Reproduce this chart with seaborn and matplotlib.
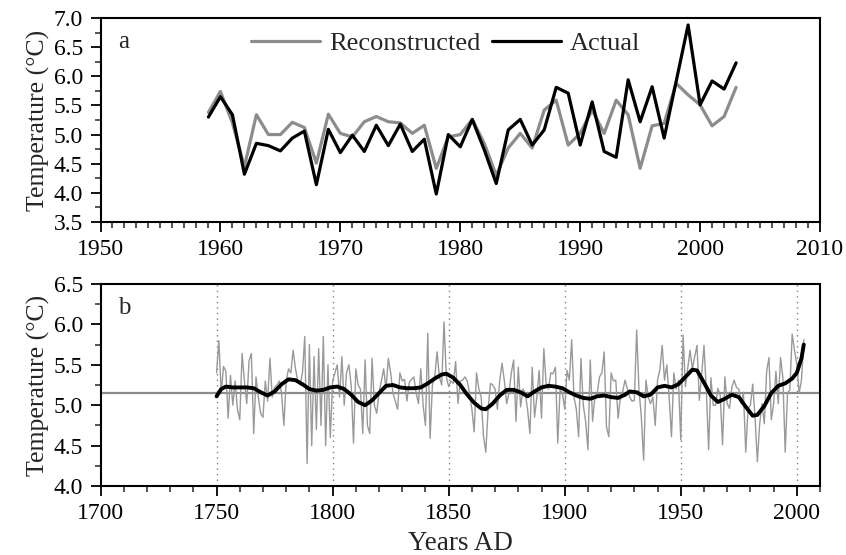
import numpy as np
import pandas as pd
import matplotlib
matplotlib.use("Agg")
import matplotlib.pyplot as plt
from matplotlib.ticker import MultipleLocator
import seaborn as sns

# ---------------- data ----------------
years_a = list(range(1959, 2004))
reconstructed = [5.38, 5.74, 5.20, 4.45, 5.34, 5.00, 5.00, 5.21, 5.12, 4.51,
                 5.35, 5.02, 4.96, 5.22, 5.31, 5.22, 5.20, 5.02, 5.16, 4.42,
                 4.96, 5.00, 5.26, 4.85, 4.30, 4.77, 5.02, 4.77, 5.42, 5.59,
                 4.82, 5.02, 5.42, 5.02, 5.59, 5.34, 4.42, 5.15, 5.19, 5.88,
                 5.68, 5.51, 5.15, 5.31, 5.81]
actual = [5.30, 5.65, 5.34, 4.32, 4.85, 4.81, 4.72, 4.94, 5.06, 4.14,
          5.09, 4.69, 4.99, 4.71, 5.16, 4.81, 5.18, 4.71, 4.92, 3.98,
          5.00, 4.79, 5.26, 4.74, 4.16, 5.08, 5.26, 4.82, 5.08, 5.81,
          5.71, 4.82, 5.56, 4.71, 4.61, 5.94, 5.22, 5.82, 4.94, 5.91,
          6.88, 5.51, 5.92, 5.78, 6.23]

years_b = list(range(1750, 2004))
annual_b = [
    5.40, 5.80, 5.15, 5.48, 5.42, 4.84, 5.37, 5.00, 5.30, 4.95,  # 1750
    4.82, 5.64, 5.30, 5.02, 5.55, 5.64, 4.65, 5.35, 5.10, 4.90,  # 1760
    4.85, 5.30, 5.05, 5.58, 5.10, 5.22, 5.25, 5.30, 5.15, 4.75,  # 1770
    5.30, 5.45, 5.40, 5.68, 5.45, 5.30, 5.25, 5.40, 5.85, 4.28,  # 1780
    5.75, 4.50, 5.60, 4.70, 5.70, 4.75, 5.85, 4.50, 5.50, 4.60,  # 1790
    5.30, 5.40, 5.50, 5.10, 5.60, 5.00, 5.40, 5.50, 5.25, 4.53,  # 1800
    5.45, 5.25, 5.20, 4.65, 5.56, 4.75, 4.65, 5.58, 5.00, 4.90,  # 1810
    5.15, 5.30, 5.45, 5.20, 5.58, 5.40, 5.15, 5.05, 4.95, 5.40,  # 1820
    5.30, 5.32, 5.05, 5.28, 5.32, 5.35, 5.15, 5.02, 5.45, 5.00,  # 1830
    4.75, 5.89, 4.59, 5.25, 5.35, 5.66, 5.35, 5.25, 6.03, 5.35,  # 1840
    5.23, 5.30, 5.27, 5.54, 5.02, 5.30, 5.31, 5.35, 5.30, 5.15,  # 1850
    4.95, 4.67, 5.40, 5.20, 5.10, 4.62, 4.42, 4.95, 5.27, 5.25,  # 1860
    5.20, 4.95, 5.30, 5.52, 5.30, 5.02, 5.15, 5.40, 5.56, 4.80,  # 1870
    5.47, 4.98, 5.20, 5.15, 4.95, 4.65, 5.47, 4.85, 5.10, 5.43,  # 1880
    4.84, 5.70, 5.27, 5.20, 5.40, 5.39, 5.47, 4.53, 5.19, 5.15,  # 1890
    4.95, 5.43, 5.31, 5.81, 5.10, 4.95, 4.61, 5.58, 5.00, 4.80,  # 1900
    4.45, 5.56, 4.80, 5.10, 5.15, 5.35, 5.40, 5.66, 4.73, 4.61,  # 1910
    5.40, 5.30, 5.31, 4.84, 5.10, 5.17, 5.31, 5.20, 5.10, 5.05,  # 1920
    5.06, 5.93, 5.19, 4.86, 4.32, 5.31, 5.10, 5.02, 5.10, 4.75,  # 1930
    5.31, 5.44, 5.74, 5.31, 5.50, 5.10, 4.61, 5.40, 5.20, 5.31,  # 1940
    4.57, 5.87, 5.23, 5.45, 5.68, 5.45, 5.60, 5.74, 5.06,        # 1950-1958
] + reconstructed

smooth_years = [1750, 1752, 1754, 1757, 1760, 1763, 1766, 1769, 1772, 1775,
                1778, 1781, 1784, 1787, 1790, 1793, 1796, 1799, 1802, 1805,
                1808, 1811, 1814, 1817, 1820, 1823, 1826, 1829, 1832, 1835,
                1838, 1841, 1844, 1847, 1849, 1852, 1855, 1858, 1861, 1864,
                1866, 1869, 1872, 1875, 1878, 1881, 1884, 1887, 1890, 1893,
                1896, 1899, 1902, 1905, 1908, 1911, 1914, 1917, 1920, 1923,
                1926, 1928, 1931, 1934, 1937, 1940, 1943, 1946, 1949, 1952,
                1955, 1957, 1960, 1963, 1966, 1969, 1972, 1975, 1978, 1981,
                1983, 1986, 1989, 1992, 1995, 1998, 2000, 2002, 2003]
smooth_vals = [5.11, 5.20, 5.23, 5.22, 5.22, 5.22, 5.21, 5.16, 5.12, 5.17,
               5.26, 5.32, 5.31, 5.26, 5.20, 5.18, 5.19, 5.22, 5.23, 5.20,
               5.13, 5.04, 5.00, 5.06, 5.15, 5.24, 5.25, 5.22, 5.21, 5.21,
               5.22, 5.27, 5.33, 5.38, 5.39, 5.34, 5.25, 5.13, 5.03, 4.96,
               4.95, 5.02, 5.12, 5.19, 5.19, 5.16, 5.11, 5.17, 5.22, 5.24,
               5.23, 5.21, 5.16, 5.12, 5.09, 5.08, 5.11, 5.12, 5.10, 5.09,
               5.13, 5.17, 5.16, 5.11, 5.13, 5.22, 5.24, 5.22, 5.26, 5.35,
               5.44, 5.43, 5.28, 5.12, 5.04, 5.08, 5.13, 5.10, 4.98, 4.87,
               4.88, 4.99, 5.15, 5.24, 5.27, 5.33, 5.40, 5.58, 5.75]
mean_level = 5.15
guide_years = [1750, 1800, 1850, 1900, 1950, 2000]

# ---------------- style ----------------
sns.set_theme(style="ticks")
plt.rcParams['font.family'] = ['Liberation Serif', 'DejaVu Serif']

fig = plt.figure(figsize=(8.46, 5.55), dpi=100)
L, R = 0.1188, 0.9693
ax1 = fig.add_axes([L, 0.600, R - L, 0.9676 - 0.600])
ax2 = fig.add_axes([L, 0.1243, R - L, 0.4883 - 0.1243])

df_a = pd.DataFrame({"year": years_a * 2,
                     "temp": reconstructed + actual,
                     "series": ["Reconstructed"] * len(years_a) + ["Actual"] * len(years_a)})
sns.lineplot(data=df_a, x="year", y="temp", hue="series",
             palette={"Reconstructed": "#8c8c8c", "Actual": "#000000"},
             linewidth=2.3, ax=ax1, legend=True)
leg = ax1.legend(loc="center", bbox_to_anchor=(0.48, 0.875), ncol=2, frameon=False,
                 fontsize=19, handlelength=2.6, handletextpad=0.35, columnspacing=0.45,
                 borderaxespad=0, borderpad=0)
for h in leg.get_lines():
    h.set_linewidth(2.3)

ax1.set_xlim(1950, 2010)
ax1.set_ylim(3.5, 7.0)
ax1.xaxis.set_major_locator(MultipleLocator(10))
ax1.xaxis.set_minor_locator(MultipleLocator(1))
ax1.yaxis.set_major_locator(MultipleLocator(0.5))
ax1.yaxis.set_minor_locator(MultipleLocator(0.25))
ax1.yaxis.set_major_formatter(matplotlib.ticker.FormatStrFormatter('%.1f'))
ax1.set_xlabel("")
ax1.set_ylabel("Temperature (°C)", fontsize=18.5, labelpad=3)
ax1.text(0.025, 0.88, "a", transform=ax1.transAxes, fontsize=18, va="center", ha="left")

# panel b
for gy in guide_years:
    ax2.axvline(gy, color="#808080", linestyle=(0, (1, 3)), linewidth=1.0, zorder=1)
ax2.axhline(mean_level, color="#8c8c8c", linewidth=1.6, zorder=2)
df_b = pd.DataFrame({"year": years_b, "temp": annual_b})
sns.lineplot(data=df_b, x="year", y="temp", color="#999999", linewidth=1.0, ax=ax2, zorder=3)
df_s = pd.DataFrame({"year": smooth_years, "temp": smooth_vals})
sns.lineplot(data=df_s, x="year", y="temp", color="#000000", linewidth=2.8, ax=ax2, zorder=4)

ax2.set_xlim(1700, 2010)
ax2.set_ylim(4.0, 6.5)
ax2.xaxis.set_major_locator(MultipleLocator(50))
ax2.xaxis.set_minor_locator(MultipleLocator(10))
ax2.yaxis.set_major_locator(MultipleLocator(0.5))
ax2.yaxis.set_minor_locator(MultipleLocator(0.25))
ax2.yaxis.set_major_formatter(matplotlib.ticker.FormatStrFormatter('%.1f'))
ax2.set_xlabel("Years AD", fontsize=19.5, labelpad=5)
ax2.set_ylabel("Temperature (°C)", fontsize=18.5, labelpad=3)
ax2.text(0.025, 0.88, "b", transform=ax2.transAxes, fontsize=18, va="center", ha="left")

for ax in (ax1, ax2):
    for s in ax.spines.values():
        s.set_visible(True)
        s.set_linewidth(1.5)
        s.set_color("black")
    ax.tick_params(which="major", direction="out", length=7.5, width=1.3,
                   labelsize=17, colors="black", top=False, right=False, pad=5)
    ax.tick_params(which="minor", direction="out", length=4.5, width=1.1,
                   top=False, right=False)

fig.savefig("out.png", dpi=100)
